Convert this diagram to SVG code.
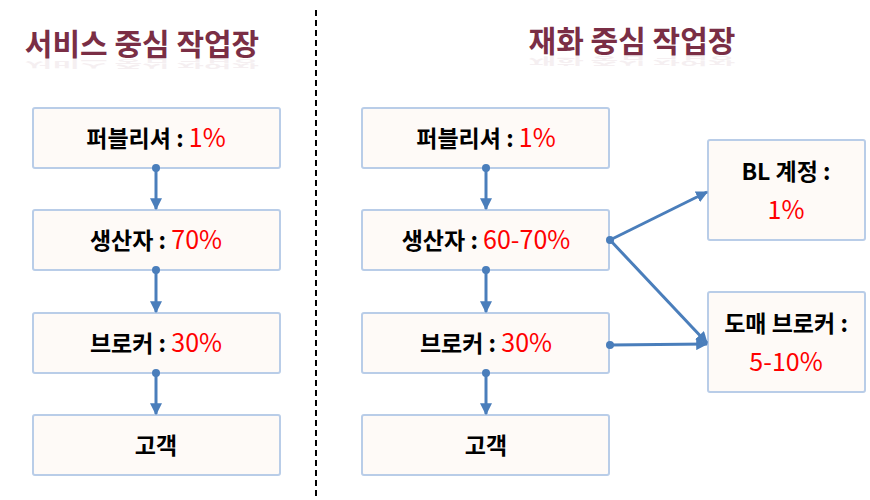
<svg xmlns="http://www.w3.org/2000/svg" width="870" height="500" viewBox="0 0 870 500">
<defs>
<style>
.box{fill:#fefaf7;stroke:#b9cde8;stroke-width:2}
.t{font-family:"Noto Sans CJK KR","Noto Sans",sans-serif;font-size:23px;font-weight:bold;fill:#000;text-anchor:middle}
.r{fill:#ff0000;font-weight:normal;font-size:25px}
.title{font-family:"Noto Sans CJK KR",sans-serif;font-size:30px;font-weight:bold;fill:#7a2e45;text-anchor:middle}
.refl{font-family:"Noto Sans CJK KR",sans-serif;font-size:30px;font-weight:bold;fill:#7a2e45;opacity:0.07;text-anchor:middle}
.c{stroke:#4a7ebb;stroke-width:3;fill:none;marker-end:url(#ah)}
.d{fill:#4a7ebb}
</style>
<marker id="ah" viewBox="0 0 10 10" refX="9" refY="5" markerWidth="4" markerHeight="4" orient="auto">
<path d="M0,0 L10,5 L0,10 z" fill="#4a7ebb"/>
</marker>
</defs>
<line x1="316" y1="10" x2="316" y2="496" stroke="#000" stroke-width="2" stroke-dasharray="6,4"/>
<g id="title-left">
<text class="title" x="142" y="55">서비스 중심 작업장</text>
<text class="refl" x="142" y="55" transform="matrix(1 0 0 -0.35 0 79)">서비스 중심 작업장</text>
</g>
<g id="title-right">
<text class="title" x="632" y="52">재화 중심 작업장</text>
<text class="refl" x="632" y="52" transform="matrix(1 0 0 -0.35 0 75)">재화 중심 작업장</text>
</g>
<g id="L1"><rect class="box" x="33" y="108" width="247" height="60" rx="2"/><text class="t" x="156" y="147">퍼블리셔 : <tspan class="r">1%</tspan></text></g>
<g id="L2"><rect class="box" x="33" y="210" width="247" height="60" rx="2"/><text class="t" x="156" y="249">생산자 : <tspan class="r">70%</tspan></text></g>
<g id="L3"><rect class="box" x="33" y="313" width="247" height="60" rx="2"/><text class="t" x="156" y="352">브로커 : <tspan class="r">30%</tspan></text></g>
<g id="L4"><rect class="box" x="33" y="415" width="247" height="60" rx="2"/><text class="t" x="156" y="454">고객</text></g>
<g id="R1"><rect class="box" x="362" y="108" width="247" height="60" rx="2"/><text class="t" x="486" y="147">퍼블리셔 : <tspan class="r">1%</tspan></text></g>
<g id="R2"><rect class="box" x="362" y="210" width="247" height="60" rx="2"/><text class="t" x="486" y="249">생산자 : <tspan class="r">60-70%</tspan></text></g>
<g id="R3"><rect class="box" x="362" y="313" width="247" height="60" rx="2"/><text class="t" x="486" y="352">브로커 : <tspan class="r">30%</tspan></text></g>
<g id="R4"><rect class="box" x="362" y="415" width="247" height="60" rx="2"/><text class="t" x="486" y="454">고객</text></g>
<g id="BL"><rect class="box" x="708" y="140" width="157" height="100" rx="2"/><text class="t" x="786" y="180">BL 계정 :</text><text class="t" x="786" y="219"><tspan class="r">1%</tspan></text></g>
<g id="WB"><rect class="box" x="708" y="292" width="157" height="100" rx="2"/><text class="t" x="786" y="332">도매 브로커 :</text><text class="t" x="786" y="371"><tspan class="r">5-10%</tspan></text></g>
<g id="connectors">
<circle class="d" cx="156" cy="168" r="4"/><line class="c" x1="156" y1="168" x2="156" y2="209"/>
<circle class="d" cx="156" cy="270" r="4"/><line class="c" x1="156" y1="270" x2="156" y2="312"/>
<circle class="d" cx="156" cy="373" r="4"/><line class="c" x1="156" y1="373" x2="156" y2="414"/>
<circle class="d" cx="486" cy="168" r="4"/><line class="c" x1="486" y1="168" x2="486" y2="209"/>
<circle class="d" cx="486" cy="270" r="4"/><line class="c" x1="486" y1="270" x2="486" y2="312"/>
<circle class="d" cx="486" cy="373" r="4"/><line class="c" x1="486" y1="373" x2="486" y2="414"/>
<circle class="d" cx="610" cy="240" r="4"/>
<line class="c" x1="610" y1="240" x2="707" y2="192"/>
<line class="c" x1="610" y1="240" x2="707" y2="343"/>
<circle class="d" cx="610" cy="345" r="4"/>
<line class="c" x1="610" y1="345" x2="707" y2="344"/>
</g>
</svg>
